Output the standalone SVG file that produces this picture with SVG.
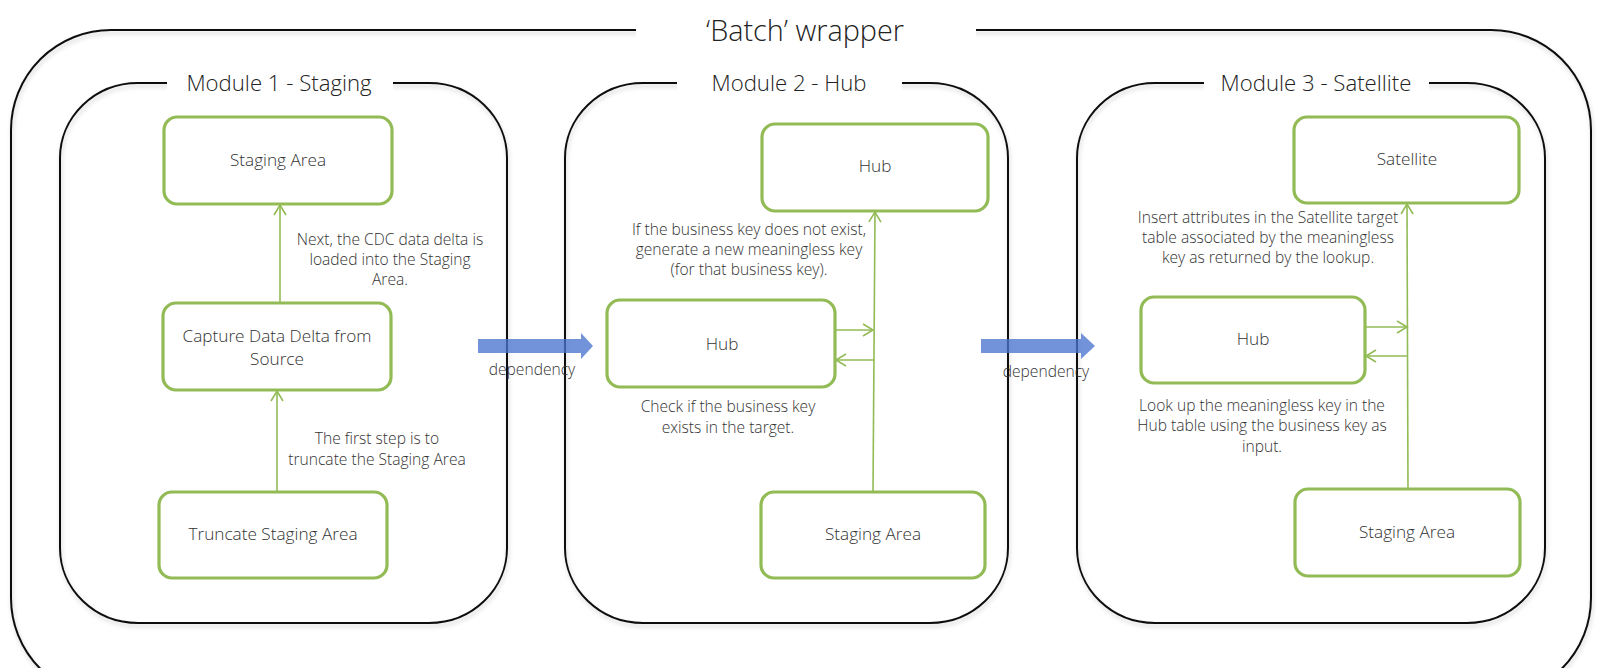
<svg xmlns="http://www.w3.org/2000/svg" width="1611" height="668" viewBox="0 0 1611 668">
<style>
.frame{fill:none;stroke:#111;stroke-width:2}
.node{fill:#fff;stroke:#92BB55;stroke-width:3.2}
.ntxt{font-family:"Open Sans","Liberation Sans",sans-serif;font-weight:300;font-size:17.2px;fill:#333;text-anchor:middle}
.lbl{font-family:"Open Sans","Liberation Sans",sans-serif;font-weight:300;font-size:15.6px;fill:#333;text-anchor:middle}
.mtitle{font-family:"Open Sans","Liberation Sans",sans-serif;font-weight:300;font-size:22.2px;fill:#222;text-anchor:middle}
.btitle{font-family:"Open Sans","Liberation Sans",sans-serif;font-weight:300;font-size:28.8px;fill:#222;text-anchor:middle}
.conn{fill:none;stroke:#92BB55;stroke-width:1.6}
.dep{fill:#4A74CF;fill-opacity:0.78}
.gap{fill:#fff}
</style>
<defs>
<marker id="ah" markerUnits="userSpaceOnUse" markerWidth="14" markerHeight="16" refX="11" refY="7" orient="auto">
<path d="M1,1 L11,7 L1,13" fill="none" stroke="#92BB55" stroke-width="1.6"/>
</marker>
<filter id="sh" x="-5%" y="-5%" width="110%" height="110%">
<feDropShadow dx="1" dy="3" stdDeviation="2" flood-color="#000" flood-opacity="0.18"/>
</filter>
</defs>

<g id="batch-wrapper">
<rect class="frame" x="11" y="30" width="1580" height="668" rx="100" ry="100" filter="url(#sh)"/>
<rect class="gap" x="636" y="18" width="340" height="26"/>
<text class="btitle" x="805" y="41">‘Batch’ wrapper</text>
</g>

<g id="module1">
<rect class="frame" x="60" y="83" width="447" height="540" rx="78" ry="75" filter="url(#sh)"/>
<rect class="gap" x="167" y="72" width="226" height="22"/>
<text class="mtitle" x="279" y="91">Module 1 - Staging</text>
</g>
<g id="module2">
<rect class="frame" x="565" y="83" width="443" height="540" rx="78" ry="75" filter="url(#sh)"/>
<rect class="gap" x="677" y="72" width="225" height="22"/>
<text class="mtitle" x="789" y="91">Module 2 - Hub</text>
</g>
<g id="module3">
<rect class="frame" x="1077" y="83" width="468" height="540" rx="78" ry="75" filter="url(#sh)"/>
<rect class="gap" x="1204" y="72" width="225" height="22"/>
<text class="mtitle" x="1316" y="91">Module 3 - Satellite</text>
</g>

<g id="m1-staging-area">
<rect class="node" x="164" y="117" width="228" height="87" rx="13"/>
<text class="ntxt" x="278" y="166">Staging Area</text>
</g>
<g id="m1-capture">
<rect class="node" x="163" y="303" width="228" height="87" rx="13"/>
<text class="ntxt" x="277" y="342">Capture Data Delta from</text>
<text class="ntxt" x="277" y="365">Source</text>
</g>
<g id="m1-truncate">
<rect class="node" x="159" y="492" width="228" height="86" rx="13"/>
<text class="ntxt" x="273" y="540">Truncate Staging Area</text>
</g>

<g id="m2-hub-target">
<rect class="node" x="762" y="124" width="226" height="87" rx="13"/>
<text class="ntxt" x="875" y="172">Hub</text>
</g>
<g id="m2-hub-lookup">
<rect class="node" x="607" y="300" width="228" height="87" rx="13"/>
<text class="ntxt" x="722" y="350">Hub</text>
</g>
<g id="m2-staging-area">
<rect class="node" x="761" y="492" width="224" height="86" rx="13"/>
<text class="ntxt" x="873" y="540">Staging Area</text>
</g>

<g id="m3-satellite">
<rect class="node" x="1294" y="117" width="225" height="86" rx="13"/>
<text class="ntxt" x="1407" y="165">Satellite</text>
</g>
<g id="m3-hub">
<rect class="node" x="1141" y="297" width="224" height="86" rx="13"/>
<text class="ntxt" x="1253" y="345">Hub</text>
</g>
<g id="m3-staging-area">
<rect class="node" x="1295" y="489" width="225" height="87" rx="13"/>
<text class="ntxt" x="1407" y="538">Staging Area</text>
</g>

<g id="connectors">
<line class="conn" x1="280" y1="303" x2="280" y2="205" marker-end="url(#ah)"/>
<line class="conn" x1="277" y1="492" x2="277" y2="391" marker-end="url(#ah)"/>
<line class="conn" x1="873" y1="492" x2="875" y2="212" marker-end="url(#ah)"/>
<line class="conn" x1="836" y1="330" x2="873" y2="330" marker-end="url(#ah)"/>
<line class="conn" x1="874" y1="360" x2="836" y2="360" marker-end="url(#ah)"/>
<line class="conn" x1="1408" y1="489" x2="1407" y2="204" marker-end="url(#ah)"/>
<line class="conn" x1="1366" y1="327" x2="1407" y2="327" marker-end="url(#ah)"/>
<line class="conn" x1="1408" y1="356" x2="1366" y2="356" marker-end="url(#ah)"/>
<path class="dep" d="M478,339 L581,339 L581,333 L593,346 L581,359 L581,353 L478,353 Z"/>
<path class="dep" d="M981,339 L1081,339 L1081,333 L1095,346 L1081,359 L1081,353 L981,353 Z"/>
</g>

<g id="labels">
<text class="lbl" x="390" y="245">Next, the CDC data delta is</text>
<text class="lbl" x="390" y="265">loaded into the Staging</text>
<text class="lbl" x="390" y="285">Area.</text>
<text class="lbl" x="377" y="444">The first step is to</text>
<text class="lbl" x="377" y="465">truncate the Staging Area</text>
<text class="lbl" x="749" y="235">If the business key does not exist,</text>
<text class="lbl" x="749" y="255">generate a new meaningless key</text>
<text class="lbl" x="749" y="275">(for that business key).</text>
<text class="lbl" x="728" y="412">Check if the business key</text>
<text class="lbl" x="728" y="433">exists in the target.</text>
<text class="lbl" x="532" y="375">dependency</text>
<text class="lbl" x="1046" y="377">dependency</text>
<text class="lbl" x="1268" y="223">Insert attributes in the Satellite target</text>
<text class="lbl" x="1268" y="243">table associated by the meaningless</text>
<text class="lbl" x="1268" y="263">key as returned by the lookup.</text>
<text class="lbl" x="1262" y="411">Look up the meaningless key in the</text>
<text class="lbl" x="1262" y="431">Hub table using the business key as</text>
<text class="lbl" x="1262" y="452">input.</text>
</g>
</svg>
